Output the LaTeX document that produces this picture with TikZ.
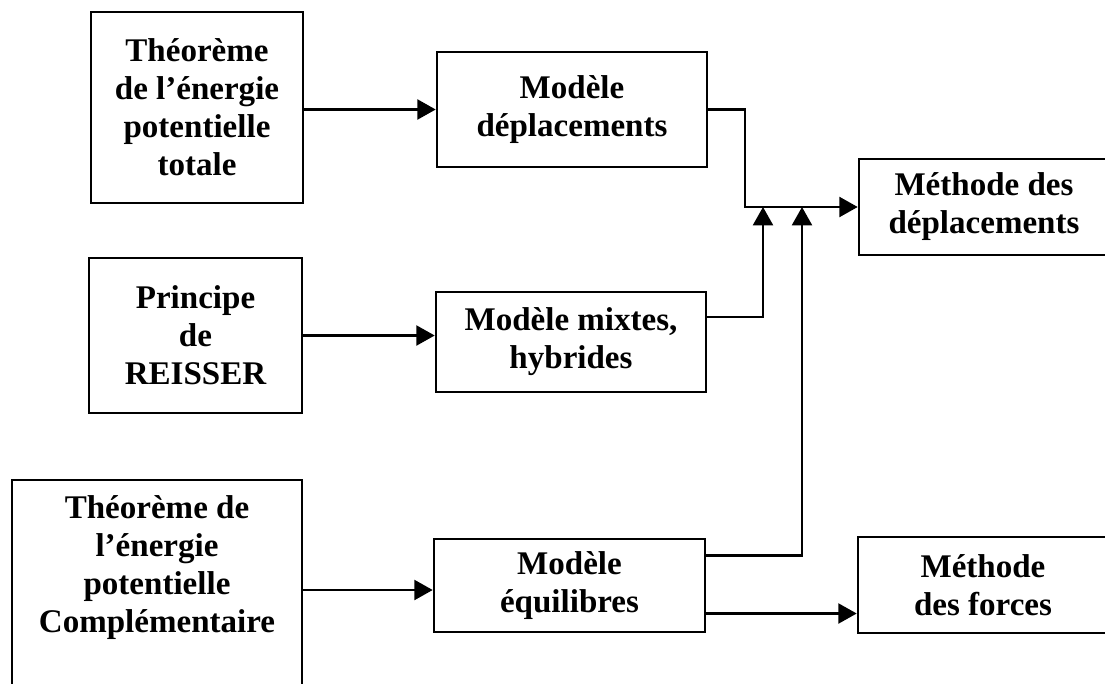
\documentclass[tikz,border=0pt]{standalone}
\usepackage{fontspec}
\setmainfont{Liberation Serif}
\usetikzlibrary{arrows.meta, positioning, calc}

\begin{document}
\begin{tikzpicture}[
  x=0.025cm, y=-0.025cm,
  every node/.style={font=\fontsize{23.5}{27}\selectfont\bfseries},
  box/.style={rectangle, draw, line width=1.8pt, align=center, inner sep=2pt},
  flow/.style={line width=1.7pt, -{Triangle[length=0.46cm, width=0.5cm]}},
]

\useasboundingbox (0,0) rectangle (1105,684);
\clip (0,0) rectangle (1105,684);

% Principles (left column)
\node[box, minimum width=5.3cm, minimum height=4.775cm] (thpot) at (197,107.5) {Théorème\\de l’énergie\\potentielle\\totale};
\node[box, minimum width=5.325cm, minimum height=3.875cm] (princ) at (195.5,335.5) {Principe\\de\\REISSER};
\node[box, minimum width=7.25cm, minimum height=5.5cm] (thcomp) at (157,590) {Théorème de\\l’énergie\\potentielle\\Complémentaire\rule[-1.3cm]{0pt}{0pt}};

% Models (middle column)
\node[box, minimum width=6.75cm, minimum height=2.875cm] (moddep) at (572,109.5) {Modèle\\déplacements};
\node[box, minimum width=6.75cm, minimum height=2.5cm] (modmix) at (571,342) {Modèle mixtes,\\hybrides};
\node[box, minimum width=6.775cm, minimum height=2.325cm] (modeq) at (569.5,585.5) {Modèle\\équilibres};

% Methods (right column, cut at the page edge)
\node[box, minimum width=6.25cm, minimum height=2.4cm] (metdep) at (984,207) {Méthode des\\déplacements};
\node[box, minimum width=6.25cm, minimum height=2.4cm] (metfor) at (983,585) {Méthode\\des forces};

% Junctions on the upper output line
\coordinate (jdep) at (745,207);
\coordinate (jmix) at (763,207);
\coordinate (jeq) at (802,207);

\draw[flow] (thpot.east |- moddep.west) -- (moddep.west);
\draw[flow] (princ.east) -- (princ.east -| modmix.west);
\draw[flow] (thcomp.east) -- (thcomp.east -| modeq.west);

\draw[flow] (moddep.east) -| (jdep) -- (metdep.west);
\draw[flow] ([yshift=0.625cm]modmix.east) -| (jmix);
\draw[flow] ([yshift=0.75cm]modeq.east) -| (jeq);
\draw[flow] ([yshift=-0.7cm]modeq.east) -- ([yshift=-0.7cm]modeq.east -| metfor.west);

\end{tikzpicture}
\end{document}
